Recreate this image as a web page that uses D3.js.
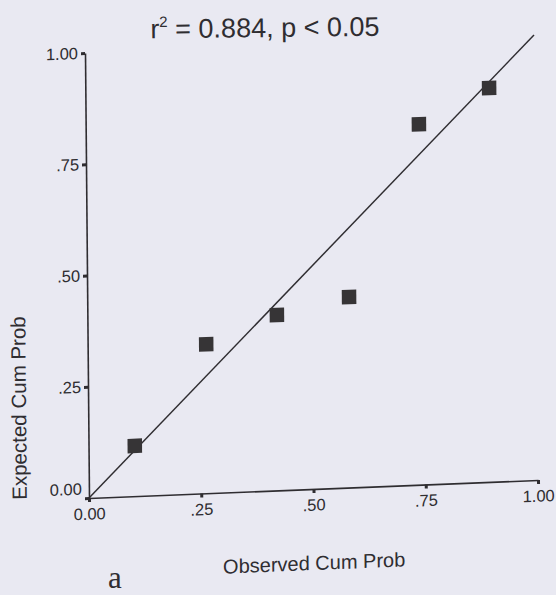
<!DOCTYPE html>
<html>
<head>
<meta charset="utf-8">
<script src="https://cdn.jsdelivr.net/npm/d3@7/dist/d3.min.js"></script>
<style>
  html, body { margin: 0; padding: 0; background: #e9e9f2; }
  svg { display: block; }
  text { font-family: "Liberation Sans", Arial, sans-serif; fill: #2f2d31; }
</style>
</head>
<body>
<svg id="chart" width="556" height="595"></svg>
<script>
// P-P plot: observed vs expected cumulative probability
const observed = [0.103, 0.264, 0.422, 0.583, 0.742, 0.899];
const expected = [0.113, 0.335, 0.394, 0.428, 0.810, 0.885];
const tickValues = [0, 0.25, 0.5, 0.75, 1];
const tickLabels = ["0.00", ".25", ".50", ".75", "1.00"];
const titleMain = "r";
const titleSup = "2";
const titleRest = " = 0.884, p < 0.05";
const xTitle = "Observed Cum Prob";
const yTitle = "Expected Cum Prob";
const panelLetter = "a";

const svg = d3.select("#chart");
const ink = "#2f2d31";

const W = 449, H = 445;
const x = d3.scaleLinear().domain([0, 1]).range([0, W]);
const y = d3.scaleLinear().domain([0, 1]).range([H, 0]);

// plot frame, slightly skewed as printed on the page
const g = svg.append("g")
  .attr("transform", "matrix(1,-0.04009,0.008989,1,85,53)");

const label = d => tickLabels[tickValues.indexOf(d)];

const xAxis = g.append("g")
  .attr("transform", `translate(0,${H})`)
  .call(d3.axisBottom(x).tickValues(tickValues).tickFormat(label)
    .tickSize(4).tickSizeOuter(0).tickPadding(6));

const yAxis = g.append("g")
  .call(d3.axisLeft(y).tickValues(tickValues).tickFormat(label)
    .tickSize(4).tickSizeOuter(0).tickPadding(3));

[xAxis, yAxis].forEach(a => {
  a.select(".domain").attr("stroke", ink).attr("stroke-width", 1.6);
  a.selectAll(".tick line").attr("stroke", ink).attr("stroke-width", 3);
  a.selectAll(".tick text").attr("font-size", 16.5).attr("fill", ink)
    .style("font-family", '"Liberation Sans", Arial, sans-serif');
});
// lift the bottom label of the vertical axis clear of the corner
yAxis.selectAll(".tick text").filter(d => d === 0).attr("dy", "-0.25em");

// reference diagonal
g.append("line")
  .attr("x1", x(0)).attr("y1", y(0))
  .attr("x2", x(1)).attr("y2", y(1))
  .attr("stroke", ink).attr("stroke-width", 1.5);

// data points
const s = 14.5;
g.selectAll("rect.pt")
  .data(observed.map((o, i) => [o, expected[i]]))
  .join("rect")
  .attr("class", "pt")
  .attr("x", d => x(d[0]) - s / 2)
  .attr("y", d => y(d[1]) - s / 2)
  .attr("width", s).attr("height", s)
  .attr("fill", "#363436");

// x-axis title
g.append("text")
  .attr("x", x(0.5)).attr("y", H + 81)
  .attr("text-anchor", "middle")
  .attr("font-size", 20)
  .text(xTitle);

// y-axis title
svg.append("text")
  .attr("transform", "translate(26,408) rotate(-90.5)")
  .attr("text-anchor", "middle")
  .attr("font-size", 20.5)
  .text(yTitle);

// title
const t = svg.append("text")
  .attr("x", 265).attr("y", 37)
  .attr("text-anchor", "middle")
  .attr("font-size", 27)
  .attr("transform", "rotate(-0.6,265,37)");
t.append("tspan").text(titleMain);
t.append("tspan").attr("font-size", 15).attr("dy", -11).text(titleSup);
t.append("tspan").attr("dy", 11).text(titleRest);

// panel letter
svg.append("text")
  .attr("x", 108).attr("y", 588)
  .attr("font-size", 31)
  .style("font-family", '"Liberation Serif", "Times New Roman", serif')
  .text(panelLetter);
</script>
</body>
</html>
